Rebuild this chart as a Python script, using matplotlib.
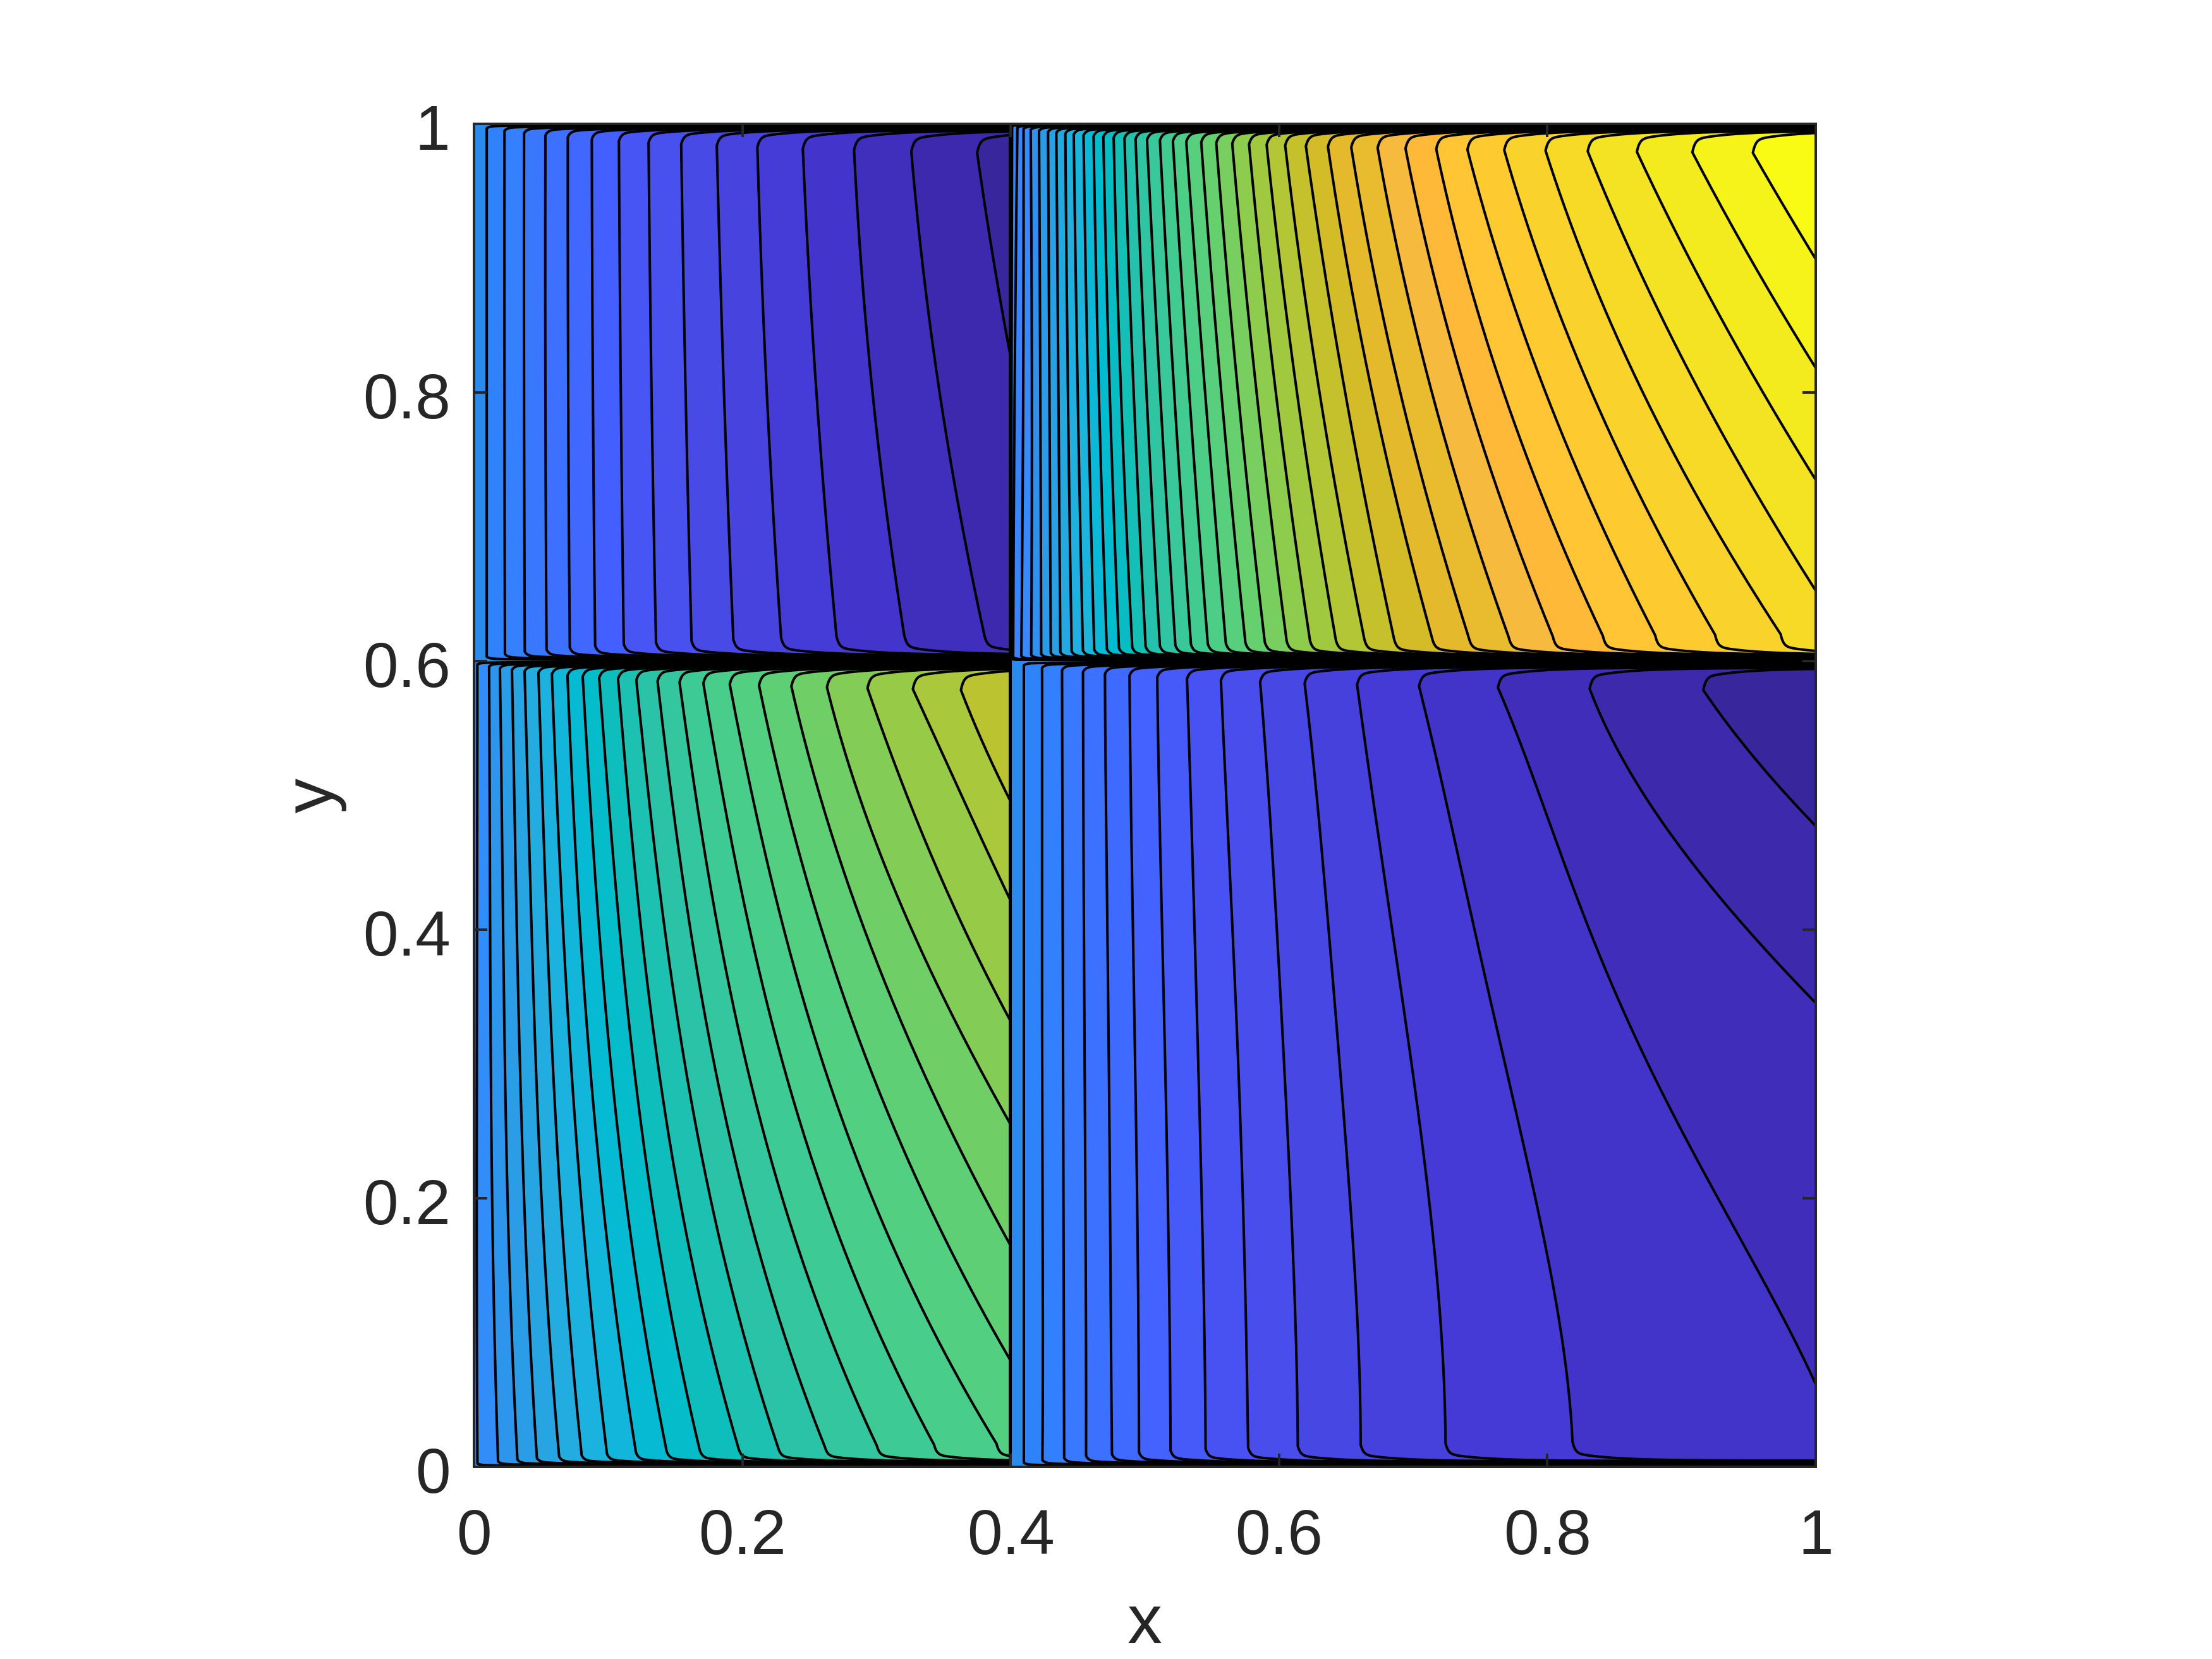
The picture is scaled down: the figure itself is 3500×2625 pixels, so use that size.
import numpy as np
import matplotlib
matplotlib.use('Agg')
import matplotlib.pyplot as plt
from matplotlib.colors import to_rgb
from matplotlib.patches import Rectangle
from matplotlib.transforms import ScaledTranslation

x_split = 0.4
y_split = 0.6
ticks = [0, 0.2, 0.4, 0.6, 0.8, 1]
tick_labels = ['0', '0.2', '0.4', '0.6', '0.8', '1']

# crossing of every contour line (one row per line) at the heights in *_y
# values past the block edge are where a line would go once it has left the block
tl_y = [0.9856, 0.8, 0.62]
tl_x = [[.0095, .0095, .0095], [.0227, .0227, .0230], [.0373, .0373, .0378],
        [.0532, .0532, .0540], [.0699, .0702, .0713], [.0878, .0886, .0902],
        [.1080, .1094, .1115], [.1301, .1323, .1355], [.1544, .1577, .1620],
        [.1809, .1863, .1931], [.2111, .2182, .2287], [.2449, .2552, .2700],
        [.2830, .2970, .3205], [.3254, .3470, .3802], [.3740, .4050, .4455]]

bl_y = [0.5885, 0.4, 0.2, 0.0139]
bl_x = [[.0025, .0023, .0020, .0025], [.0113, .0120, .0135, .0176],
        [.0194, .0217, .0250, .0319], [.0284, .0319, .0373, .0464],
        [.0378, .0429, .0503, .0629], [.0481, .0544, .0643, .0797],
        [.0581, .0664, .0797, .0986], [.0697, .0791, .0957, .1202],
        [.0810, .0932, .1131, .1431], [.0932, .1085, .1322, .1679],
        [.1072, .1246, .1532, .1971], [.1207, .1422, .1762, .2268],
        [.1364, .1613, .2017, .2619], [.1526, .1820, .2298, .3011],
        [.1701, .2055, .2617, .3443], [.1895, .2310, .2969, .3915],
        [.2111, .2591, .3365, .4401], [.2349, .2910, .3809, .4914],
        [.2611, .3263, .4320, .5535], [.2903, .3656, .4806, .6345],
        [.3227, .4104, .5265, .6885], [.3591, .4536, .5940, .7425]]

tr_y = [0.982, 0.796, 0.6216]
tr_x = [[.4010, .4006, .4003], [.4048, .4029, .4019], [.4096, .4093, .4081],
        [.4150, .4158, .4154], [.4212, .4221, .4227], [.4279, .4289, .4298],
        [.4341, .4356, .4369], [.4408, .4427, .4452], [.4471, .4500, .4535],
        [.4544, .4577, .4619], [.4619, .4658, .4712], [.4692, .4739, .4802],
        [.4769, .4823, .4900], [.4850, .4918, .5000], [.4933, .5014, .5106],
        [.5019, .5116, .5221], [.5115, .5221, .5337], [.5212, .5333, .5462],
        [.5312, .5452, .5596], [.5423, .5573, .5741], [.5535, .5698, .5885],
        [.5654, .5837, .6048], [.5779, .5981, .6221], [.5910, .6139, .6413],
        [.6048, .6308, .6625], [.6202, .6500, .6846], [.6366, .6702, .7128],
        [.6539, .6913, .7401], [.6735, .7150, .7698], [.6942, .7406, .8027],
        [.7170, .7688, .8400], [.7401, .8002, .8791], [.7674, .8348, .9238],
        [.7980, .8731, .9728], [.8291, .9159, 1.020], [.8654, .9630, 1.075],
        [.9064, 1.014, 1.135], [.9511, 1.066, 1.190]]

br_y = [0.5806, 0.4536, 0.3147, 0.1758, 0.025]
br_x = [[.4098, .4098, .4098, .4098, .4098], [.4234, .4234, .4234, .4238, .4238],
        [.4383, .4386, .4390, .4394, .4398], [.4539, .4543, .4550, .4558, .4562],
        [.4703, .4714, .4730, .4742, .4753], [.4886, .4902, .4925, .4945, .4956],
        [.5093, .5116, .5148, .5175, .5191], [.5316, .5355, .5394, .5429, .5452],
        [.5569, .5628, .5690, .5737, .5768], [.5862, .5952, .6030, .6097, .6139],
        [.6194, .6323, .6440, .6545, .6608], [.6584, .6764, .6967, .7143, .7240],
        [.7045, .7338, .7650, .7962, .8184], [.7630, .8110, .8680, .9405, 1.0150],
        [.8314, .9036, 1.0324, 1.1768, 1.3330], [.9133, 1.0285, 1.1768, 1.3720, 1.5672]]

# colours of the bands, by number of lines crossed from the wall value (0)
band_z = [-15, -14, -13, -12, -11, -10, -9, -8, -7, -6, -5, -3, -2, -1, 0,
          2, 3, 4, 5, 6, 7, 8, 9, 10, 11, 12, 13, 14, 15, 16, 17, 18, 19, 20,
          21, 22, 23, 24, 25, 26, 27, 28, 29, 30, 31, 32, 33, 34, 35, 36, 37, 38]
band_hex = ['#38269c', '#3c29ad', '#402ebc', '#4335cc', '#453cd8', '#4643df', '#484ae6',
            '#4850ee', '#4755f5', '#445fff', '#4068ff', '#3a77ff', '#3480ff', '#2f82f9',
            '#2b8aee', '#3a85ff', '#3689ff', '#2f90f0', '#2b9ae8', '#2aa0e4', '#24a8e0',
            '#1fb0e0', '#1ab4dd', '#0cb8d8', '#00bcd0', '#08bcc4', '#14bfb6', '#24c2ac',
            '#2fc5a3', '#38c89a', '#42cb90', '#4dce86', '#58cf7c', '#66cf6e', '#78ce5e',
            '#8ecc4e', '#a0c940', '#b2c636', '#c4c12c', '#d4bc28', '#e4b92c', '#e9bc30',
            '#f5ba3e', '#ffb938', '#ffc535', '#fdcb30', '#f9d22b', '#f6da26', '#f4e322',
            '#f4eb1e', '#f6f31a', '#f9fb15']

line_w = 0.96
dark = '#262626'
hook_h = 0.012

plt.rcParams['font.family'] = ['Liberation Sans', 'DejaVu Sans']
band_rgb = np.array([to_rgb(c) for c in band_hex])


def band_colour(z):
    return [np.interp(z, band_z, band_rgb[:, i]) for i in range(3)]


# one contour line: the read crossings plus the turn along both walls
def line_path(xr, yr, k, n, y0, y1):
    # lines that leave the block early get a stiffer curve, their far rows are rough
    deg = 3 if max(xr) > 1.1 else 4
    coef = np.polyfit(yr, xr, min(deg, len(yr) - 1))
    dc = hook_h * (k / n) ** 0.7
    t = np.r_[0, np.geomspace(1e-4, 1.6, 90)]
    d = 0.45 * dc + 0.55 * dc * np.exp(-t / 0.03) + 0.8 * dc * np.exp(-t / 0.002)
    ys = np.linspace(y0 + d[0], y1 - d[0], 120)
    xs = np.polyval(coef, ys)
    px = np.r_[(xs[0] + t)[::-1], xs, xs[-1] + t]
    py = np.r_[(y0 + d)[::-1], ys, y1 - d]
    return px, py


def draw_block(ax, xr, yr, x0, x1, y0, y1, z_step, z_off=0):
    clip = Rectangle((x0, y0), x1 - x0, y1 - y0, transform=ax.transData)
    n = len(xr)
    base = ax.fill([x0, x1, x1, x0], [y0, y0, y1, y1], color=band_colour(0), lw=0)
    base[0].set_clip_path(clip)
    paths = [line_path(xr[k], yr, k + 1, n, y0, y1) for k in range(n)]
    for k, (px, py) in enumerate(paths):
        p = ax.fill(px, py, color=band_colour((k + 1) * z_step + z_off), lw=0)
        p[0].set_clip_path(clip)
    for px, py in paths:
        ln, = ax.plot(px, py, color='k', lw=line_w, solid_joinstyle='round')
        ln.set_clip_path(clip)


fig = plt.figure(figsize=(3500 / 300, 2625 / 300), dpi=300)
ax = fig.add_axes([750 / 3500, (2625 - 2321) / 2625, 2123 / 3500, 2125 / 2625])

draw_block(ax, tl_x, tl_y, 0, x_split, y_split, 1, -1)
draw_block(ax, bl_x, bl_y, 0, x_split, 0, y_split, 1, 2.5)
draw_block(ax, tr_x, tr_y, x_split, 1, y_split, 1, 1)
draw_block(ax, br_x, br_y, x_split, 1, 0, y_split, -15 / 16)
ax.plot([x_split - 0.0008, x_split - 0.0008], [0, 1], color='k', lw=1.2)

ax.set_xlim(0, 1)
ax.set_ylim(0, 1)
ax.set_xticks(ticks)
ax.set_xticklabels(tick_labels)
ax.set_yticks(ticks)
ax.set_yticklabels(tick_labels)
ax.set_axisbelow(False)
ax.tick_params(direction='in', top=True, right=True, length=5, width=0.96,
               color=dark, labelcolor=dark, labelsize=24)
ax.tick_params(axis='x', pad=15.5)
ax.tick_params(axis='y', pad=9)
shift = ScaledTranslation(0, -1.1 / 72, fig.dpi_scale_trans)
for lab in ax.get_yticklabels():
    lab.set_transform(lab.get_transform() + shift)
for s in ax.spines.values():
    s.set_color(dark)
    s.set_linewidth(0.96)
ax.set_xlabel('x', fontsize=26.4, color=dark, labelpad=10)
ax.set_ylabel('y', fontsize=26.4, color=dark, labelpad=6)

fig.savefig('out.png', dpi=300, facecolor='white')
